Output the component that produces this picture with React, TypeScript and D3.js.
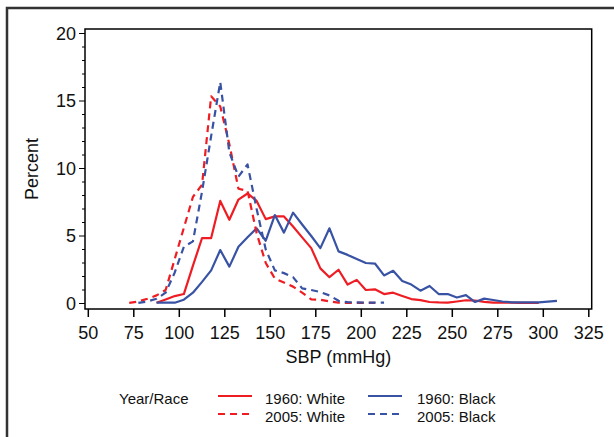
import React from 'react'
import * as d3 from 'd3'

// SBP bin midpoints (mmHg) and percent per bin
const white1960X = [87.5, 92.5, 97.5, 102.5, 107.5, 112.5, 117.5, 122.5, 127.5, 132.5, 137.5, 142.5, 147.5, 152.5, 157.5, 162.5, 167.5, 172.5, 177.5, 182.5, 187.5, 192.5, 197.5, 202.5, 207.5, 212.5, 217.5, 222.5, 227.5, 232.5, 237.5, 242.5, 247.5, 252.5, 257.5, 262.5, 267.5, 272.5, 277.5, 282.5, 287.5, 292.5, 297.5]
const white1960Y = [0.05, 0.3, 0.55, 0.7, 2.8, 4.85, 4.85, 7.6, 6.2, 7.7, 8.15, 7.6, 6.25, 6.45, 6.45, 5.7, 4.9, 4.1, 2.6, 1.95, 2.5, 1.4, 1.75, 1.0, 1.05, 0.7, 0.8, 0.56, 0.33, 0.25, 0.11, 0.08, 0.07, 0.15, 0.24, 0.22, 0.12, 0.07, 0.06, 0.06, 0.05, 0.05, 0.05]

const black1960X = [87.5, 92.5, 97.5, 102.5, 107.5, 112.5, 117.5, 122.5, 127.5, 132.5, 137.5, 142.5, 147.5, 152.5, 157.5, 162.5, 167.5, 172.5, 177.5, 182.5, 187.5, 192.5, 197.5, 202.5, 207.5, 212.5, 217.5, 222.5, 227.5, 232.5, 237.5, 242.5, 247.5, 252.5, 257.5, 262.5, 267.5, 272.5, 277.5, 282.5, 287.5, 292.5, 297.5, 302.5, 307.5]
const black1960Y = [0.06, 0.06, 0.06, 0.28, 0.8, 1.6, 2.45, 3.96, 2.73, 4.2, 4.9, 5.57, 4.65, 6.55, 5.25, 6.73, 5.85, 5.0, 4.1, 5.57, 3.86, 3.6, 3.3, 3.0, 2.96, 2.08, 2.42, 1.67, 1.4, 0.95, 1.3, 0.7, 0.7, 0.44, 0.62, 0.11, 0.36, 0.26, 0.15, 0.09, 0.09, 0.09, 0.09, 0.14, 0.19]

const white2005X = [72.5, 77.5, 82.5, 87.5, 92.5, 97.5, 102.5, 107.5, 112.5, 117.5, 122.5, 127.5, 132.5, 137.5, 142.5, 147.5, 152.5, 157.5, 162.5, 167.5, 172.5, 177.5, 182.5, 187.5, 192.5, 197.5, 202.5, 207.5]
const white2005Y = [0.05, 0.15, 0.35, 0.6, 1.0, 3.3, 5.6, 7.9, 8.8, 15.35, 14.6, 11.8, 8.5, 8.35, 5.2, 3.0, 1.85, 1.55, 1.25, 0.8, 0.3, 0.28, 0.15, 0.06, 0.05, 0.05, 0.04, 0.04]

const black2005X = [77.5, 82.5, 87.5, 92.5, 97.5, 102.5, 107.5, 112.5, 117.5, 122.5, 127.5, 132.5, 137.5, 142.5, 147.5, 152.5, 157.5, 162.5, 167.5, 172.5, 177.5, 182.5, 187.5, 192.5, 197.5, 202.5, 207.5, 212.5]
const black2005Y = [0.05, 0.15, 0.35, 0.8, 2.3, 4.2, 4.6, 8.3, 12.4, 16.4, 11.2, 9.4, 10.3, 7.0, 4.0, 2.45, 2.25, 1.95, 1.12, 1.0, 0.85, 0.6, 0.2, 0.1, 0.08, 0.06, 0.06, 0.06]

const xTicks = [50, 75, 100, 125, 150, 175, 200, 225, 250, 275, 300, 325]
const yTicks = [0, 5, 10, 15, 20]
const yMinor = d3.range(0, 21, 1)

const red = '#ee1d23'
const blue = '#3953a4'
const font = 'Arial, "Liberation Sans", sans-serif'

const series = [
  { name: '1960: White', xs: white1960X, ys: white1960Y, color: red, dash: null },
  { name: '1960: Black', xs: black1960X, ys: black1960Y, color: blue, dash: null },
  { name: '2005: White', xs: white2005X, ys: white2005Y, color: red, dash: '7,5' },
  { name: '2005: Black', xs: black2005X, ys: black2005Y, color: blue, dash: '7,5' },
]

const box = { left: 85, right: 591.7, top: 29, bottom: 309 }

export default function App() {
  const x = d3.scaleLinear().domain([50, 325]).range([88.3, 588.8])
  const y = d3.scaleLinear().domain([0, 20]).range([303.5, 33.5])
  const line = d3
    .line<[number, number]>()
    .x((d) => x(d[0]))
    .y((d) => y(d[1]))

  return (
    <svg
      width={614}
      height={437}
      style={{ position: 'absolute', left: 0, top: 0, background: 'white' }}
      fontFamily={font}
    >
      <rect x={7} y={8} width={720} height={520} fill="none" stroke="#333" strokeWidth={2.5} />

      {/* plot lines */}
      {series.map((s) => (
        <path
          key={s.name}
          d={line(s.xs.map((v, i) => [v, s.ys[i]])) || ''}
          fill="none"
          stroke={s.color}
          strokeWidth={2.2}
          strokeDasharray={s.dash || undefined}
          strokeLinejoin="round"
        />
      ))}

      <rect
        x={box.left}
        y={box.top}
        width={box.right - box.left}
        height={box.bottom - box.top}
        fill="none"
        stroke="#000"
        strokeWidth={1.5}
      />

      {/* y axis */}
      {yMinor.map((t) => (
        <line
          key={'m' + t}
          x1={box.left}
          x2={box.left - (t % 5 === 0 ? 6 : 3)}
          y1={y(t)}
          y2={y(t)}
          stroke="#000"
          strokeWidth={1}
        />
      ))}
      {yTicks.map((t) => (
        <text
          key={'y' + t}
          x={box.left - 9}
          y={y(t)}
          dy="0.35em"
          textAnchor="end"
          fontSize={18}
          fill="#111"
        >
          {t}
        </text>
      ))}

      {/* x axis */}
      {xTicks.map((t) => (
        <g key={'x' + t}>
          <line x1={x(t)} x2={x(t)} y1={box.bottom} y2={box.bottom + 8} stroke="#000" strokeWidth={1.5} />
          <text x={x(t)} y={box.bottom + 24} dy="0.35em" textAnchor="middle" fontSize={18} fill="#111">
            {t}
          </text>
        </g>
      ))}

      <text
        transform={`translate(32,${(box.top + box.bottom) / 2}) rotate(-90)`}
        textAnchor="middle"
        dy="0.35em"
        fontSize={18}
        fill="#111"
      >
        Percent
      </text>
      <text x={(box.left + box.right) / 2} y={357} dy="0.35em" textAnchor="middle" fontSize={18} fill="#111">
        SBP (mmHg)
      </text>

      {/* legend */}
      <text x={119} y={399} dy="0.35em" fontSize={15} fill="#111">
        Year/Race
      </text>
      {series.map((s, i) => {
        const col = i % 2
        const row = Math.floor(i / 2)
        const lx = col === 0 ? 218 : 368
        const ly = row === 0 ? 396 : 414
        return (
          <g key={'lg' + s.name}>
            <line
              x1={lx}
              x2={lx + 34}
              y1={ly}
              y2={ly}
              stroke={s.color}
              strokeWidth={2.2}
              strokeDasharray={s.dash || undefined}
            />
            <text x={lx + 47 + (col === 1 ? 2 : 0)} y={ly + 3} dy="0.35em" fontSize={15} fill="#111">
              {s.name}
            </text>
          </g>
        )
      })}
    </svg>
  )
}
